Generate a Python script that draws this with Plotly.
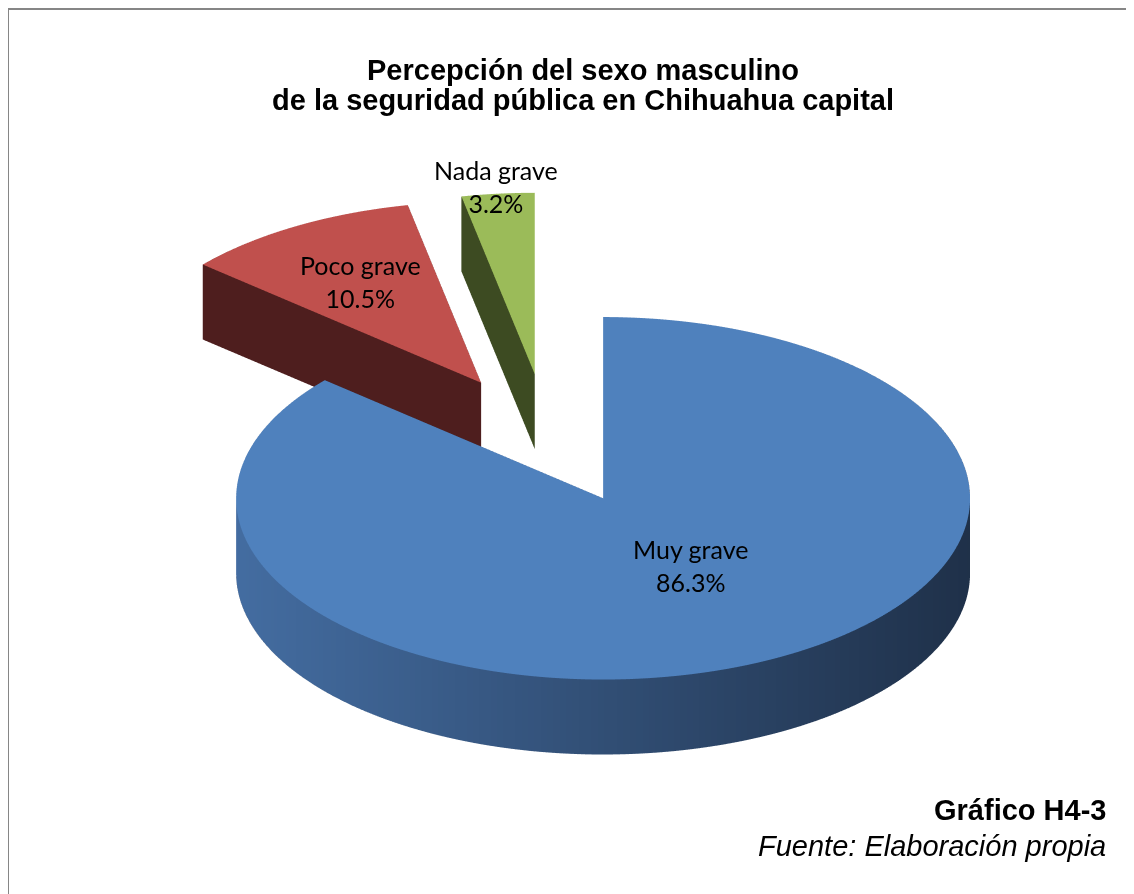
import numpy as np
import plotly.graph_objects as go

# datos del grafico
labels = ["Muy grave", "Poco grave", "Nada grave"]
values = [86.3, 10.5, 3.2]

top_colors = ["#4F81BD", "#C0504D", "#9BBB59"]
wall_colors = ["#1E2F47", "#4E1E1E", "#3D4B22"]
side_left = ["#4A77B0", "#5A2525", "#46562A"]
side_right = ["#1E2F47", "#4E1E1E", "#3D4B22"]

EXPLODE = 0.36   # fraccion del radio
DEPTH = 0.235    # grosor del pastel
LABEL_R = [0.44, 0.65, 1.04]
LABEL_DA = [-8, 0, 0]  # ajuste angular de las etiquetas (grados)


def hex_rgb(h):
    h = h.lstrip("#")
    return [int(h[i:i + 2], 16) for i in (0, 2, 4)]


def mix(c1, c2, t):
    a, b = hex_rgb(c1), hex_rgb(c2)
    t = min(max(t, 0.0), 1.0)
    r, g, bl = [round(a[i] + (b[i] - a[i]) * t) for i in range(3)]
    return f"rgb({r},{g},{bl})"


def slice_mesh(a0, a1, k):
    """Arma una rebanada 3D (angulos en grados, sentido horario desde +y)."""
    mid = np.radians((a0 + a1) / 2)
    ox, oy = EXPLODE * np.sin(mid), EXPLODE * np.cos(mid)
    n = max(2, int(np.ceil(a1 - a0)))
    th = np.radians(np.linspace(a0, a1, n + 1))
    ax, ay = ox + np.sin(th), oy + np.cos(th)

    xs, ys, zs = [], [], []
    I, J, K, fc = [], [], [], []

    def v(x, y, z):
        xs.append(x); ys.append(y); zs.append(z)
        return len(xs) - 1

    def tri(a, b, c, col):
        I.append(a); J.append(b); K.append(c); fc.append(col)

    ct = v(ox, oy, DEPTH)
    cb = v(ox, oy, 0.0)
    at = [v(ax[i], ay[i], DEPTH) for i in range(n + 1)]
    ab = [v(ax[i], ay[i], 0.0) for i in range(n + 1)]

    for i in range(n):
        tri(ct, at[i], at[i + 1], top_colors[k])
        tri(cb, ab[i], ab[i + 1], wall_colors[k])
        t = ((ax[i] + ax[i + 1]) / 2 + 1.2) / 2.4
        col = mix(side_left[k], side_right[k], t)
        tri(ab[i], ab[i + 1], at[i + 1], col)
        tri(ab[i], at[i + 1], at[i], col)

    for e in (0, n):
        tri(cb, ab[e], at[e], wall_colors[k])
        tri(cb, at[e], ct, wall_colors[k])

    return xs, ys, zs, I, J, K, fc, ox, oy, mid


fig = go.Figure()
total = sum(values)
start = 0.0
scene_notes = []
for k, (lab, val) in enumerate(zip(labels, values)):
    span = 360.0 * val / total
    xs, ys, zs, I, J, K, fc, ox, oy, mid = slice_mesh(start, start + span, k)
    fig.add_trace(go.Mesh3d(
        x=xs, y=ys, z=zs, i=I, j=J, k=K,
        facecolor=fc,
        flatshading=True,
        lighting=dict(ambient=1.0, diffuse=0.0, specular=0.0, roughness=1.0, fresnel=0.0),
        name=lab,
        hovertext=f"{lab}: {val}%",
        hoverinfo="text",
    ))
    r = LABEL_R[k]
    la = mid + np.radians(LABEL_DA[k])
    scene_notes.append(dict(
        x=ox + r * np.sin(la), y=oy + r * np.cos(la), z=DEPTH,
        text=f"{lab}<br>{val:.1f}%",
        showarrow=False,
        font=dict(family="Lato, Open Sans, sans-serif", size=25, color="black"),
    ))
    start += span

ax_off = dict(visible=False, showbackground=False, showgrid=False, zeroline=False)
el = np.radians(29.6)
dist = 3.0
SPAN = 3.2   # rango de cada eje en datos
ASP = 2.627  # escala (zoom ortografico)
sc = ASP / SPAN
# punto de mira (en unidades de la caja normalizada)
cx, cy, cz = 0.0736 * sc, -0.0215 * sc, 0.197 * sc

title_font = dict(family="Liberation Sans, Arial", size=29, color="black")
foot_font = dict(family="Liberation Sans, Arial", size=29, color="black")

fig.update_layout(
    width=1134,
    height=894,
    margin=dict(l=0, r=0, t=0, b=0),
    paper_bgcolor="white",
    showlegend=False,
    scene=dict(
        xaxis=dict(range=[-1.6, 1.6], **ax_off),
        yaxis=dict(range=[-1.6, 1.6], **ax_off),
        zaxis=dict(range=[-0.4, 0.4], **ax_off),
        aspectmode="manual",
        aspectratio=dict(x=ASP, y=ASP, z=ASP * 0.25),
        bgcolor="white",
        camera=dict(
            eye=dict(x=cx, y=cy - dist * np.cos(el), z=cz + dist * np.sin(el)),
            center=dict(x=cx, y=cy, z=cz),
            up=dict(x=0, y=0, z=1),
            projection=dict(type="orthographic"),
        ),
        annotations=scene_notes,
    ),
    annotations=[
        dict(text="<b>Percepción del sexo masculino</b>", x=0.507, y=1 - 62 / 894,
             xref="paper", yref="paper", xanchor="center", yanchor="middle",
             showarrow=False, font=title_font),
        dict(text="<b>de la seguridad pública en Chihuahua capital</b>", x=0.507, y=1 - 92 / 894,
             xref="paper", yref="paper", xanchor="center", yanchor="middle",
             showarrow=False, font=title_font),
        dict(text="<b>Gráfico H4-3</b>", x=1100 / 1134, y=1 - 802 / 894, xref="paper", yref="paper",
             xanchor="right", yanchor="middle", showarrow=False, font=foot_font),
        dict(text="<i>Fuente: Elaboración propia</i>", x=1100 / 1134, y=1 - 838 / 894,
             xref="paper", yref="paper", xanchor="right", yanchor="middle",
             showarrow=False, font=foot_font),
    ],
    shapes=[dict(type="rect", xref="paper", yref="paper", x0=0.0, x1=1.02, y0=-0.02, y1=1 - 1 / 894,
                 line=dict(color="#868686", width=2), fillcolor="rgba(0,0,0,0)")],
)

fig.write_html("out.html")
